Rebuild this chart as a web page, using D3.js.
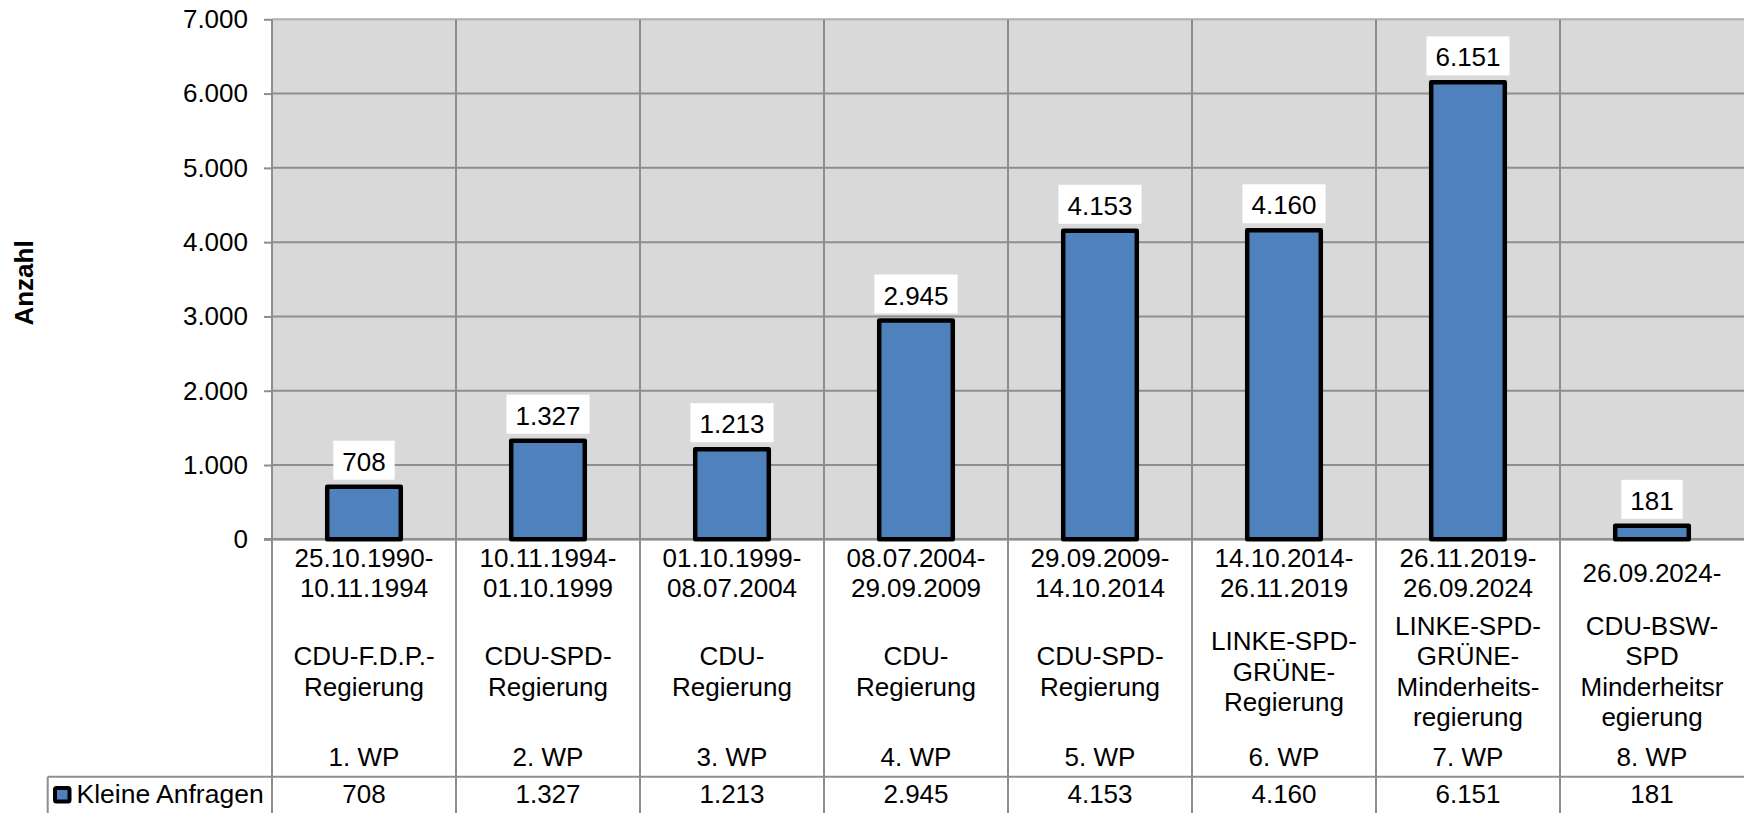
<!DOCTYPE html>
<html><head><meta charset="utf-8">
<script src="https://cdn.jsdelivr.net/npm/d3@7"></script>
<style>body{margin:0;background:#fff}svg{display:block}</style>
</head><body><svg id="c" width="1744" height="813"></svg>
<script>
// ---- data ----
const wahlperioden = ["1. WP","2. WP","3. WP","4. WP","5. WP","6. WP","7. WP","8. WP"];
const zeitraeume = [
  ["25.10.1990-","10.11.1994"],
  ["10.11.1994-","01.10.1999"],
  ["01.10.1999-","08.07.2004"],
  ["08.07.2004-","29.09.2009"],
  ["29.09.2009-","14.10.2014"],
  ["14.10.2014-","26.11.2019"],
  ["26.11.2019-","26.09.2024"],
  ["26.09.2024-"]
];
const regierungen = [
  ["CDU-F.D.P.-","Regierung"],
  ["CDU-SPD-","Regierung"],
  ["CDU-","Regierung"],
  ["CDU-","Regierung"],
  ["CDU-SPD-","Regierung"],
  ["LINKE-SPD-","GRÜNE-","Regierung"],
  ["LINKE-SPD-","GRÜNE-","Minderheits-","regierung"],
  ["CDU-BSW-","SPD","Minderheitsr","egierung"]
];
const kleineAnfragen = [708,1327,1213,2945,4153,4160,6151,181];
const yTicks = [0,1000,2000,3000,4000,5000,6000,7000];
const seriesName = "Kleine Anfragen";
const yTitle = "Anzahl";

// ---- setup ----
(function(){
const W = 1744, H = 813;
const pLeft = 272, pRight = 1744, pTop = 19.3, pBottom = 539.3;
const FONT = "'Liberation Sans', Arial, sans-serif";
const FS = 26, LH = 30.4;
const GRID = "#8e8e8e";
const BLUE = "#4f81bd";

const de = d3.formatLocale({decimal:",", thousands:".", grouping:[3], currency:["","€"]});
const fmt = de.format(",d");

const svg = d3.select("#c").style("font-family", FONT);
const idx = d3.range(kleineAnfragen.length);
const x = d3.scaleBand().domain(idx).range([pLeft, pRight]).paddingInner(0).paddingOuter(0);
const y = d3.scaleLinear().domain([0, 7000]).range([pBottom, pTop]);

// plot background
svg.append("rect").attr("x", pLeft).attr("y", y(7000)).attr("width", pRight-pLeft).attr("height", y(0)-y(7000)).attr("fill", "#d9d9d9");

// horizontal gridlines
svg.append("g").selectAll("line").data(yTicks).join("line")
  .attr("x1", pLeft).attr("x2", pRight).attr("y1", d=>y(d)).attr("y2", d=>y(d))
  .attr("stroke", d => d===7000 ? "#b0b0b0" : GRID).attr("stroke-width", 2);

// vertical gridlines (extend through table)
svg.append("g").selectAll("line").data(idx).join("line")
  .attr("x1", d=>x(d)).attr("x2", d=>x(d)).attr("y1", y(7000)).attr("y2", H)
  .attr("stroke", GRID).attr("stroke-width", 2);

// y axis ticks + labels
const yAxis = d3.axisLeft(y).tickValues(yTicks).tickFormat(fmt).tickSizeInner(8).tickSizeOuter(0).tickPadding(16);
const ga = svg.append("g").attr("transform", `translate(${pLeft},0)`).call(yAxis);
ga.select(".domain").remove();
ga.selectAll(".tick line").attr("stroke", GRID).attr("stroke-width", 2);
ga.selectAll(".tick text").attr("font-size", FS).attr("font-family", FONT).attr("fill", "#000");

// x axis baseline
svg.append("line").attr("x1", pLeft-8).attr("x2", pRight).attr("y1", y(0)).attr("y2", y(0))
  .attr("stroke", GRID).attr("stroke-width", 2.5);

// bars
const bw = x.bandwidth()*0.4;
svg.append("g").selectAll("rect").data(idx).join("rect")
  .attr("x", d => x(d) + x.bandwidth()/2 - bw/2)
  .attr("y", d => y(kleineAnfragen[d]))
  .attr("width", bw)
  .attr("height", d => y(0) - y(kleineAnfragen[d]))
  .attr("fill", BLUE).attr("stroke", "#000").attr("stroke-width", 4.5).attr("stroke-linejoin", "round");

// value labels with white boxes
const lg = svg.append("g");
idx.forEach(d => {
  const cx = x(d) + x.bandwidth()/2;
  const boxBottom = y(kleineAnfragen[d]) - 7;
  const g = lg.append("g");
  const r = g.append("rect").attr("fill", "#fff");
  const t = g.append("text").attr("x", cx).attr("y", boxBottom - 9)
    .attr("text-anchor", "middle").attr("font-size", FS).attr("fill", "#000").text(fmt(kleineAnfragen[d]));
  const tw = t.node().getComputedTextLength();
  r.attr("x", cx - tw/2 - 9).attr("y", boxBottom - 39).attr("width", tw + 18).attr("height", 39);
});

// category table labels
const cg = svg.append("g").attr("font-size", FS).attr("fill", "#000").attr("text-anchor", "middle");
idx.forEach(d => {
  const cx = x(d) + x.bandwidth()/2;
  const dl = zeitraeume[d];
  const dMid = 582;
  dl.forEach((s, i) => {
    cg.append("text").attr("x", cx).attr("y", dMid + (i - (dl.length-1)/2)*LH).text(s);
  });
  const rl = regierungen[d];
  const rMid = 680.5;
  rl.forEach((s, i) => {
    cg.append("text").attr("x", cx).attr("y", rMid + (i - (rl.length-1)/2)*LH).text(s);
  });
  cg.append("text").attr("x", cx).attr("y", 766).text(wahlperioden[d]);
  cg.append("text").attr("x", cx).attr("y", 803).text(fmt(kleineAnfragen[d]));
});

// table row lines
svg.append("line").attr("x1", 47.7).attr("x2", pRight).attr("y1", 776.7).attr("y2", 776.7).attr("stroke", GRID).attr("stroke-width", 2);
svg.append("line").attr("x1", 47.7).attr("x2", 47.7).attr("y1", 776.7).attr("y2", H).attr("stroke", GRID).attr("stroke-width", 2);

// legend key + series name
svg.append("rect").attr("x", 55).attr("y", 788).attr("width", 14.5).attr("height", 13.5).attr("rx", 1.5)
  .attr("fill", BLUE).attr("stroke", "#000").attr("stroke-width", 4);
svg.append("text").attr("x", 76.5).attr("y", 803).attr("font-size", 26.5).attr("fill", "#000").text(seriesName);

// y title
svg.append("text").attr("transform", "translate(33,283) rotate(-90)").attr("text-anchor", "middle")
  .attr("font-size", FS).attr("font-weight", "bold").attr("fill", "#000").text(yTitle);
})();
</script>
</body></html>
